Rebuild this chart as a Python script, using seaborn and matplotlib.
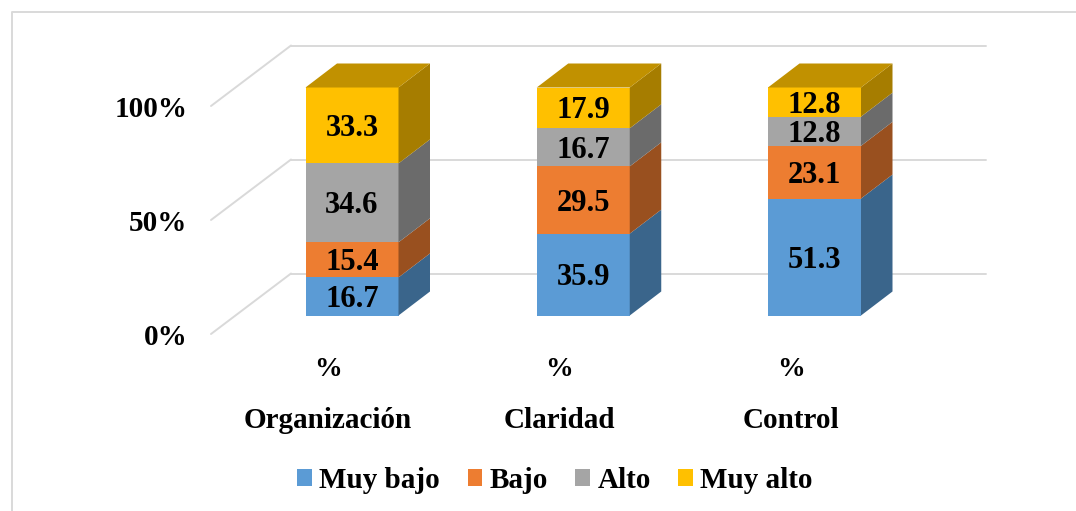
import matplotlib.pyplot as plt
from matplotlib.patches import Polygon
import seaborn as sns
import numpy as np

categories = ['Organización', 'Claridad', 'Control']
series_names = ['Muy bajo', 'Bajo', 'Alto', 'Muy alto']
muy_bajo = [16.7, 35.9, 51.3]
bajo = [15.4, 29.5, 23.1]
alto = [34.6, 16.7, 12.8]
muy_alto = [33.3, 17.9, 12.8]
y_ticks = [0, 50, 100]
y_labels = ['0%', '50%', '100%']
sub_label = '%'

front_colors = ['#5B9BD5', '#ED7D31', '#A5A5A5', '#FFC000']
side_colors = ['#3A658B', '#99501F', '#6B6B6B', '#A67D00']
top_color = '#C19100'
grid_color = '#D9D9D9'

W, H = 1076, 511
# pixel scale of the fake 3d chart
PX_X = 231.25
PX_Y = 2.28
X0, Y0 = 352.0, 315.5


def dx(px):
    return px / PX_X


def dy(px):
    return px / PX_Y


sns.set_theme(style='white')
plt.rcParams['font.family'] = ['Liberation Serif', 'DejaVu Serif']
plt.rcParams['font.weight'] = 'bold'
plt.rcParams['text.color'] = 'black'

fig = plt.figure(figsize=(W / 100, H / 100), dpi=100)
ax = fig.add_axes([0, 0, 1, 1])

# walls: grid lines at the back, diagonals on the left
for v in y_ticks:
    yb = v + dy(42)
    ax.plot([dx(291 - X0), dx(986 - X0)], [yb, yb], color=grid_color, lw=1.4, zorder=1)
    ax.plot([dx(211 - X0), dx(291 - X0)], [v - dy(18.5), yb], color=grid_color, lw=1.4, zorder=1)

values = np.array([muy_bajo, bajo, alto, muy_alto])
bottoms = np.vstack([np.zeros(3), np.cumsum(values, axis=0)[:-1]])
bar_w = 93 / PX_X
depth_x, depth_y = dx(31.5), dy(24)

for s, name in enumerate(series_names):
    sns.barplot(x=categories, y=values[s], bottom=bottoms[s], color=front_colors[s],
                saturation=1, width=bar_w, label=name, ax=ax, zorder=3, legend=False,
                linewidth=0)
    for i in range(len(categories)):
        r = i + bar_w / 2
        b, t = bottoms[s][i], bottoms[s][i] + values[s][i]
        ax.add_patch(Polygon([(r, b), (r + depth_x, b + depth_y), (r + depth_x, t + depth_y), (r, t)],
                             facecolor=side_colors[s], edgecolor='none', zorder=3))
        ax.text(i, (b + t) / 2 - dy(3), f'{values[s][i]:.1f}', ha='center', va='center',
                fontsize=22, zorder=5)

# top of the stack
for i in range(len(categories)):
    l, r = i - bar_w / 2, i + bar_w / 2
    t = values[:, i].sum()
    ax.add_patch(Polygon([(l, t), (l + depth_x, t + depth_y), (r + depth_x, t + depth_y), (r, t)],
                         facecolor=top_color, edgecolor='none', zorder=3))

ax.set_xlim(-X0 / PX_X, (W - X0) / PX_X)
ax.set_ylim((Y0 - H) / PX_Y, Y0 / PX_Y)
ax.set_axis_off()

# axis labels
for v, lab in zip(y_ticks, y_labels):
    ax.text(dx(187.5 - X0), v - dy(21.5), lab, ha='right', va='center', fontsize=21)
for i, cat in enumerate(categories):
    ax.text(i - dx(24), dy(Y0 - 369), sub_label, ha='center', va='center', fontsize=20)
    ax.text(i - dx(24), dy(Y0 - 420), cat, ha='center', va='center', fontsize=21)

# chart border, only left and top show
fig.add_artist(plt.Line2D([11.5 / W, 11.5 / W, 1], [0, 1 - 12 / H, 1 - 12 / H], color=grid_color, lw=1.4))

handles, labels = ax.get_legend_handles_labels()
ax.legend(handles, labels, ncol=4, loc='center', bbox_to_anchor=(555 / W, 1 - 480 / H),
          bbox_transform=fig.transFigure, frameon=False, fontsize=21, handlelength=0.51,
          handleheight=0.51, handletextpad=0.24, columnspacing=0.95, borderpad=0)

fig.savefig('out.png', dpi=100)
